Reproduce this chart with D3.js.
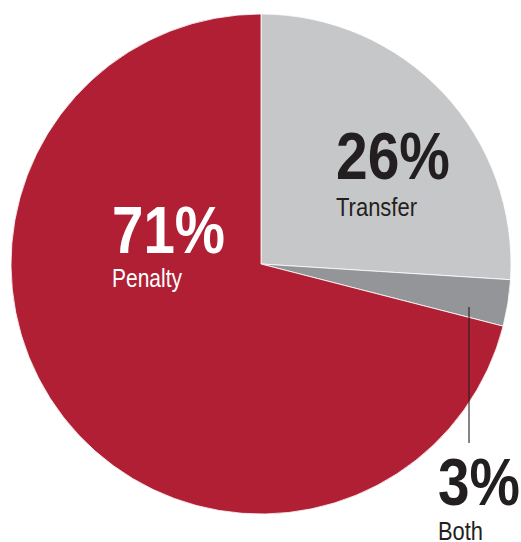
<!DOCTYPE html>
<html>
<head>
<meta charset="utf-8">
<script src="https://cdn.jsdelivr.net/npm/d3@7"></script>
<style>
  body { margin: 0; background: #fff; }
  svg { display: block; }
  text { font-family: "Liberation Sans", Arial, sans-serif; }
</style>
</head>
<body>
<div class="svg_container"></div>
<script>
var categories = ["Transfer", "Both", "Penalty"];
var shares = [26, 3, 71];
var shareLabels = ["26%", "3%", "71%"];

const WIDTH = 521;
const HEIGHT = 542;
const CX = 261;
const CY = 264;
const RADIUS = 250;

var colors = d3.scaleOrdinal()
    .domain(categories)
    .range(["#c6c7c9", "#939598", "#b01f33"]);

var translate = function (x, y) {
    return "translate(" + x + "," + y + ")";
};

// label placement relative to the pie centre; widths squeeze the text to a condensed look
var labelLayout = {
    "Transfer": {x: 75, y: -85, dy: 37, bigW: 114, smallW: 81, color: "#231f20"},
    "Penalty": {x: -149, y: -11, dy: 34, bigW: 113, smallW: 70, color: "#ffffff"},
    "Both": {x: 177, y: 241, dy: 35, bigW: 82, smallW: 45, color: "#231f20"}
};
var leader = {x: 208, y1: 43, y2: 179};

var pieData = d3.pie()
    .sort(null)
    .value(function (d) { return d.value; })(
        categories.map(function (c, i) {
            return {name: c, value: shares[i], label: shareLabels[i]};
        })
    );

var arc = d3.arc().innerRadius(0).outerRadius(RADIUS);

var svg = d3.select('.svg_container').append('svg')
    .attr('width', WIDTH)
    .attr('height', HEIGHT);

var g = svg.append('g').attr('transform', translate(CX, CY));

g.selectAll('path.slice').data(pieData).enter().append('path')
    .attr('class', 'slice')
    .attr('d', arc)
    .attr('fill', function (d) { return colors(d.data.name); })
    .attr('stroke', '#ffffff')
    .attr('stroke-width', 0.8);

// leader line for the small slice
g.append('line')
    .attr('x1', leader.x).attr('y1', leader.y1)
    .attr('x2', leader.x).attr('y2', leader.y2)
    .attr('stroke', '#231f20')
    .attr('stroke-width', 1.1);

var labels = g.selectAll('g.label').data(pieData).enter().append('g')
    .attr('class', 'label')
    .attr('transform', function (d) {
        var p = labelLayout[d.data.name];
        return translate(p.x, p.y);
    });

labels.append('text')
    .attr('font-size', 67)
    .attr('font-weight', 'bold')
    .attr('textLength', function (d) { return labelLayout[d.data.name].bigW; })
    .attr('lengthAdjust', 'spacingAndGlyphs')
    .attr('fill', function (d) { return labelLayout[d.data.name].color; })
    .text(function (d) { return d.data.label; });

labels.append('text')
    .attr('y', function (d) { return labelLayout[d.data.name].dy; })
    .attr('font-size', 26)
    .attr('textLength', function (d) { return labelLayout[d.data.name].smallW; })
    .attr('lengthAdjust', 'spacingAndGlyphs')
    .attr('fill', function (d) { return labelLayout[d.data.name].color; })
    .text(function (d) { return d.data.name; });
</script>
</body>
</html>
